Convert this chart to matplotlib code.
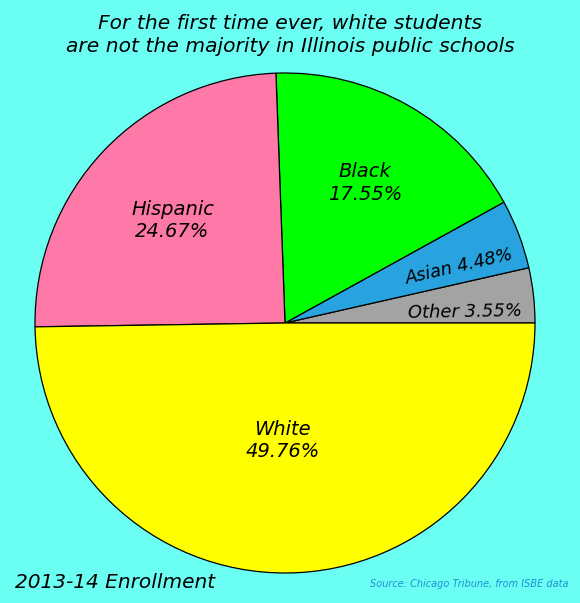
import matplotlib
matplotlib.use("Agg")
import matplotlib.pyplot as plt

categories = ["Other", "Asian", "Black", "Hispanic", "White"]
values = [3.55, 4.48, 17.55, 24.67, 49.76]
colors = ["#A3A3A3", "#29A3E0", "#00FF00", "#FF79A8", "#FFFF00"]
title = "For the first time ever, white students\nare not the majority in Illinois public schools"

bg = "#6BFFF4"
fig = plt.figure(figsize=(5.8, 6.03), dpi=100, facecolor=bg)
W, H = 580, 603
cx, cy, r = 285, 323, 250
ax = fig.add_axes([(cx - r) / W, (H - cy - r) / H, 2 * r / W, 2 * r / H])
ax.set_facecolor(bg)
wedges, _ = ax.pie(values, colors=colors, startangle=0, counterclock=True,
                   wedgeprops=dict(edgecolor="black", linewidth=0.9), radius=1)
ax.set_xlim(-1, 1)
ax.set_ylim(-1, 1)
ax.set_aspect("equal")
ax.axis("off")

font = dict(family="DejaVu Sans", style="italic")

def lbl(i):
    return f"{categories[i]}\n{values[i]:.2f}%"

ax.text(-0.01, -0.47, lbl(4), ha="center", va="center", fontsize=14, linespacing=1.25, **font)
ax.text(-0.45, 0.41, lbl(3), ha="center", va="center", fontsize=14, linespacing=1.25, **font)
ax.text(0.32, 0.56, lbl(2), ha="center", va="center", fontsize=14, linespacing=1.25, **font)
ax.text(0.70, 0.225, f"{categories[1]} {values[1]:.2f}%", ha="center", va="center",
        fontsize=12.8, rotation=13, **font)
ax.text(0.72, 0.045, f"{categories[0]} {values[0]:.2f}%", ha="center", va="center",
        fontsize=13, rotation=1, **font)

fig.text(0.5, 1 - 35 / H, title, ha="center", va="center", fontsize=14.6, linespacing=1.25, **font)
fig.text(15 / W, 1 - 582 / H, "2013-14 Enrollment", ha="left", va="center", fontsize=14.5, **font)
fig.text(568 / W, 1 - 584 / H, "Source: Chicago Tribune, from ISBE data", ha="right",
         va="center", fontsize=7, color="#1C8FD6", **font)

fig.savefig("out.png", dpi=100, facecolor=bg)
